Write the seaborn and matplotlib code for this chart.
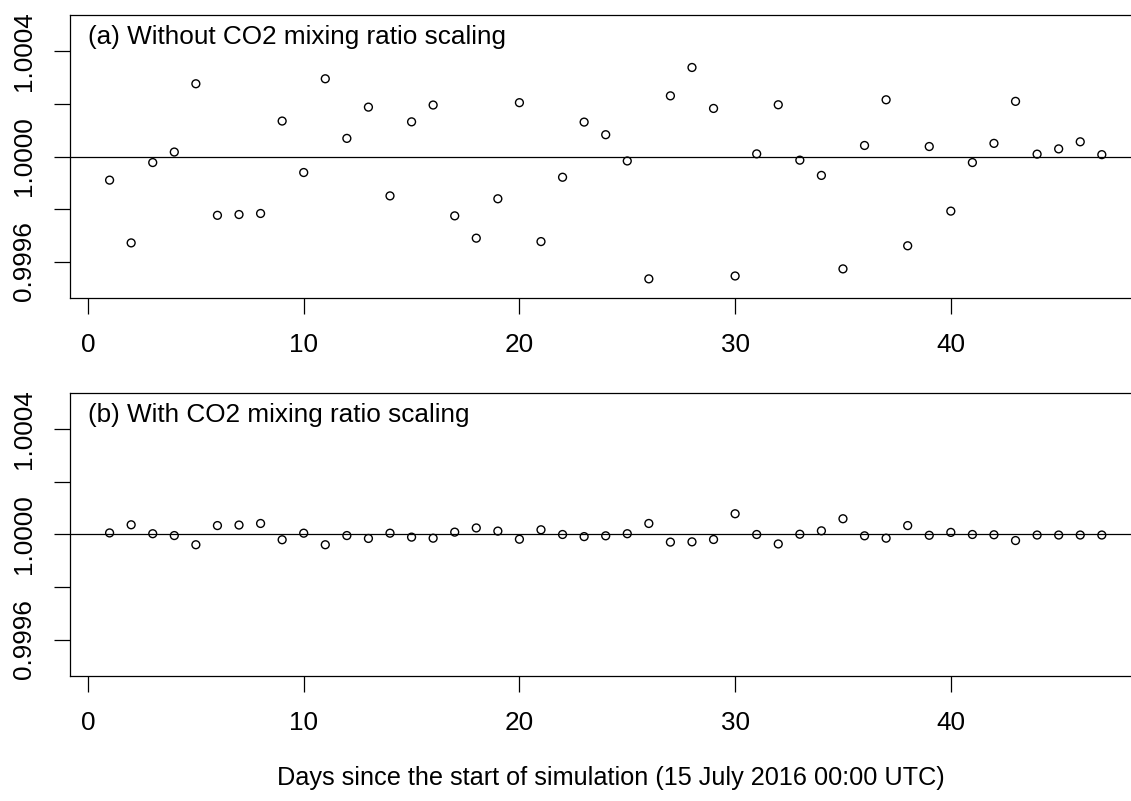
import numpy as np
import pandas as pd
import matplotlib
matplotlib.use("Agg")
import matplotlib.pyplot as plt
import matplotlib.transforms as mtransforms
import seaborn as sns

days = list(range(1, 48))

ratio_without = [
    0.999910, 0.999671, 0.999977, 1.000017, 1.000277, 0.999776, 0.999779, 0.999783,
    1.000135, 0.999939, 1.000296, 1.000069, 1.000188, 0.999850, 1.000132, 1.000196,
    0.999774, 0.999689, 0.999839, 1.000205, 0.999676, 0.999921, 1.000131, 1.000083,
    0.999983, 0.999534, 1.000231, 1.000339, 1.000183, 0.999545, 1.000010, 1.000197,
    0.999986, 0.999928, 0.999572, 1.000042, 1.000216, 0.999660, 1.000038, 0.999792,
    0.999977, 1.000050, 1.000210, 1.000009, 1.000029, 1.000056, 1.000007,
]

ratio_with = [
    1.000006, 1.000037, 1.000003, 0.999996, 0.999961, 1.000034, 1.000036, 1.000042,
    0.999980, 1.000005, 0.999961, 0.999996, 0.999985, 1.000005, 0.999990, 0.999986,
    1.000009, 1.000025, 1.000013, 0.999982, 1.000018, 1.000000, 0.999992, 0.999995,
    1.000003, 1.000042, 0.999971, 0.999972, 0.999981, 1.000079, 1.000000, 0.999964,
    1.000001, 1.000014, 1.000060, 0.999995, 0.999986, 1.000034, 0.999997, 1.000008,
    1.000000, 0.999999, 0.999977, 0.999998, 0.999998, 0.999998, 0.999998,
]

panel_titles = ["(a) Without CO2 mixing ratio scaling", "(b) With CO2 mixing ratio scaling"]
x_ticks = [0, 10, 20, 30, 40]
y_ticks = [0.9996, 0.9998, 1.0000, 1.0002, 1.0004]
y_ticklabels = ["0.9996", "", "1.0000", "", "1.0004"]
x_label = "Days since the start of simulation (15 July 2016 00:00 UTC)"

sns.set_style("ticks")
plt.rcParams["font.family"] = ["Liberation Sans", "DejaVu Sans"]
plt.rcParams["text.color"] = "black"
plt.rcParams["xtick.color"] = "black"
plt.rcParams["ytick.color"] = "black"
plt.rcParams["xtick.labelcolor"] = "black"
plt.rcParams["ytick.labelcolor"] = "black"

W, H = 1131, 801
fig = plt.figure(figsize=(W / 100, H / 100), dpi=100)

left_px, right_px = 69.9, 1141.5
tops = [14.7, 392.7]
height_px = 283.6
FS = 18.8

series = [ratio_without, ratio_with]
for i in range(2):
    top = tops[i]
    ax = fig.add_axes([left_px / W, 1 - (top + height_px) / H,
                       (right_px - left_px) / W, height_px / H])
    df = pd.DataFrame({"day": days, "ratio": series[i]})
    ax.axhline(1.0, color="black", lw=0.9, zorder=1)
    sns.scatterplot(data=df, x="day", y="ratio", ax=ax, marker="o", s=32,
                    facecolor="none", edgecolor="black", linewidth=1.0, zorder=3)
    ax.set_xlim(-0.84, 48.84)
    ax.set_ylim(0.99946, 1.00054)
    ax.set_xticks(x_ticks)
    ax.set_xticklabels([str(t) for t in x_ticks], fontsize=FS, color="black")
    ax.set_yticks(y_ticks)
    ax.set_yticklabels(y_ticklabels, fontsize=FS, rotation=90, va="center", color="black")
    ax.tick_params(axis="both", direction="out", length=11.5, width=0.9, color="black",
                   labelcolor="black")
    ax.tick_params(axis="x", pad=13.5)
    ax.tick_params(axis="y", pad=13)
    ax.set_xlabel("")
    ax.set_ylabel("")
    for sp in ax.spines.values():
        sp.set_visible(True)
        sp.set_linewidth(0.9)
        sp.set_color("black")
    ax.set_facecolor("white")
    trans = mtransforms.blended_transform_factory(ax.transData, ax.transAxes)
    ax.text(0.0, 1 - (44.3 - 14.7) / height_px, panel_titles[i], transform=trans,
            ha="left", va="baseline", fontsize=FS, color="black")

fig.text(611 / W, 1 - 785 / H, x_label, ha="center", va="baseline", fontsize=18.2, color="black")

fig.savefig("out.png", dpi=100, facecolor="white")
